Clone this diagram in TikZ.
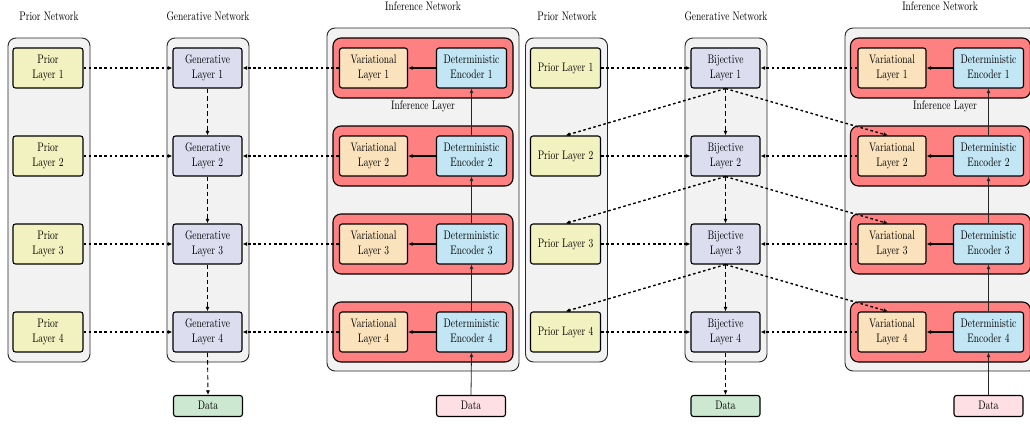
\documentclass[tikz,border=0pt]{standalone}
\usetikzlibrary{arrows.meta}
\usepackage{graphicx}
\newcommand\tx[1]{\scalebox{1}[1.3]{\begin{tabular}{@{}c@{}}#1\end{tabular}}}
\definecolor{priorc}{RGB}{242,242,192}
\definecolor{genc}{RGB}{220,222,240}
\definecolor{varc}{RGB}{250,226,188}
\definecolor{detc}{RGB}{195,230,245}
\definecolor{redl}{RGB}{255,128,128}
\definecolor{contc}{RGB}{242,242,242}
\definecolor{datag}{RGB}{204,232,208}
\definecolor{datap}{RGB}{253,223,228}
\tikzset{
  container/.style={draw=black!85, line width=0.9pt, fill=contc, rounded corners=8pt, inner sep=0pt},
  redlayer/.style={draw=black, line width=1.1pt, fill=redl, rounded corners=8pt, inner sep=0pt, minimum width=180pt, minimum height=60pt},
  box/.style={draw=black, line width=1.1pt, rounded corners=2.5pt, minimum height=40pt, inner sep=0pt},
  priorbox/.style={box, fill=priorc, minimum width=70pt},
  genbox/.style={box, fill=genc, minimum width=69pt},
  varbox/.style={box, fill=varc, minimum width=68pt},
  detbox/.style={box, fill=detc, minimum width=70pt},
  databox/.style={draw=black, line width=1.1pt, rounded corners=2.5pt, minimum width=69pt, minimum height=21pt, inner sep=0pt},
  title/.style={inner sep=0pt},
  dotarrow/.style={line width=1.4pt, dash pattern=on 2.6pt off 2.6pt, -{Latex[length=4.5pt,width=4pt]}},
  dasharrow/.style={line width=0.9pt, dash pattern=on 4.5pt off 3pt, -{Latex[length=4.5pt,width=4pt]}},
  solidarrow/.style={line width=1.4pt, -{Latex[length=4.5pt,width=4pt]}},
  thinarrow/.style={line width=0.8pt, black!85, -{Latex[length=4.5pt,width=4pt]}},
}
\begin{document}
\begin{tikzpicture}[x=1pt,y=-1pt, font=\fontsize{9.5}{12}\selectfont]
\useasboundingbox (0,0) rectangle (1030,423);
% ---------------- LEFT PANEL ----------------
\node[title] (tPL) at (49,17) {\tx{Prior Network}};
\node[title] (tGL) at (208,17) {\tx{Generative Network}};
\node[title] (tIL) at (423,7) {\tx{Inference Network}};
\node[container, minimum width=82pt, minimum height=324pt] (cPL) at (49,200) {};
\node[container, minimum width=82pt, minimum height=324pt] (cGL) at (208,200) {};
\node[container, minimum width=192pt, minimum height=343pt] (cIL) at (423,199.5) {};
\node[title] (ilabL) at (423,106) {\tx{Inference Layer}};
\foreach \i in {1,...,4}{
  \pgfmathsetmacro\yy{-20+88*\i}
  \node[redlayer] (rL\i) at (423,\yy) {};
  \node[priorbox] (pL\i) at (48,\yy) {\tx{Prior\\Layer \i}};
  \node[genbox] (gL\i) at (207.5,\yy) {\tx{Generative\\Layer \i}};
  \node[varbox] (vL\i) at (373.5,\yy) {\tx{Variational\\Layer \i}};
  \node[detbox] (dL\i) at (471.5,\yy) {\tx{Deterministic\\Encoder \i}};
}
\node[databox, fill=datag] (xgL) at (208,406) {\tx{Data}};
\node[databox, fill=datap] (xpL) at (471,406) {\tx{Data}};
\foreach \i in {1,...,4}{
  \draw[dotarrow] (pL\i.east) -- (gL\i.west);
  \draw[dotarrow] (vL\i.west) -- (gL\i.east);
  \draw[solidarrow] (dL\i.west) -- (vL\i.east);
}
\foreach \i/\j in {1/2,2/3,3/4}{
  \draw[dasharrow] (gL\i.south) -- (gL\j.north);
  \draw[thinarrow] (dL\j.north) -- (dL\i.south);
}
\draw[dasharrow] (gL4.south) -- (xgL.north);
\draw[thinarrow] (xpL.north) -- (dL4.south);
% ---------------- RIGHT PANEL ----------------
\node[title] (tPR) at (567,17) {\tx{Prior Network}};
\node[title] (tGR) at (726,17) {\tx{Generative Network}};
\node[title] (tIR) at (940,7) {\tx{Inference Network}};
\node[container, minimum width=82pt, minimum height=324pt] (cPR) at (566.5,200) {};
\node[container, minimum width=82pt, minimum height=324pt] (cGR) at (726,200) {};
\node[container, minimum width=192pt, minimum height=343pt] (cIR) at (941,199.5) {};
\node[title] (ilabR) at (945,106) {\tx{Inference Layer}};
\foreach \i in {1,...,4}{
  \pgfmathsetmacro\yy{-20+88*\i}
  \node[redlayer] (rR\i) at (940.5,\yy) {};
  \node[priorbox] (pR\i) at (565.5,\yy) {\tx{Prior Layer \i}};
  \node[genbox] (gR\i) at (725.5,\yy) {\tx{Bijective\\Layer \i}};
  \node[varbox] (vR\i) at (892,\yy) {\tx{Variational\\Layer \i}};
  \node[detbox] (dR\i) at (988.5,\yy) {\tx{Deterministic\\Encoder \i}};
}
\node[databox, fill=datag] (xgR) at (725.5,406) {\tx{Data}};
\node[databox, fill=datap] (xpR) at (988.5,406) {\tx{Data}};
\foreach \i in {1,...,4}{
  \draw[dotarrow] (pR\i.east) -- (gR\i.west);
  \draw[dotarrow] (vR\i.west) -- (gR\i.east);
  \draw[solidarrow] (dR\i.west) -- (vR\i.east);
}
\foreach \i/\j in {1/2,2/3,3/4}{
  \draw[dasharrow] (gR\i.south) -- (gR\j.north);
  \draw[thinarrow] (dR\j.north) -- (dR\i.south);
  \draw[dotarrow] (gR\i.south) -- (pR\j.north);
  \draw[dotarrow] (gR\i.south) -- ([xshift=-4pt]vR\j.north);
}
\draw[dasharrow] (gR4.south) -- (xgR.north);
\draw[thinarrow] (xpR.north) -- (dR4.south);
\end{tikzpicture}
\end{document}
